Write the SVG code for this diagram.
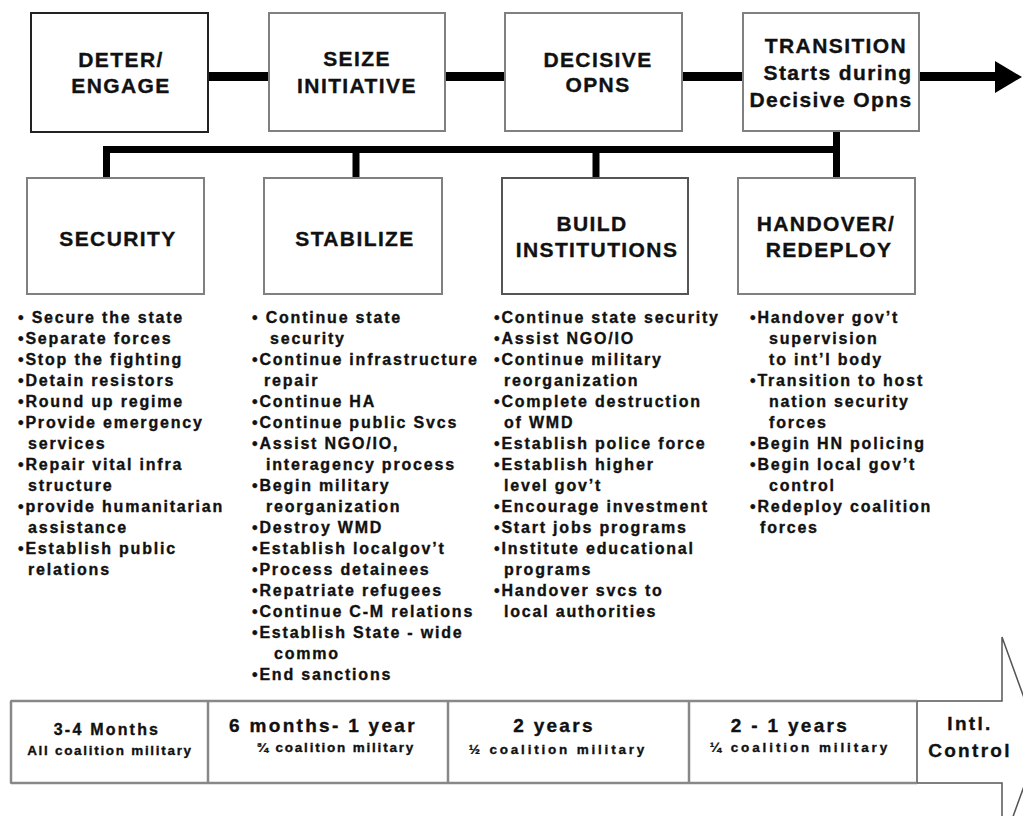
<svg xmlns="http://www.w3.org/2000/svg" width="1023" height="816" viewBox="0 0 1023 816">
<style>
.bg{fill:#fff}
.box{fill:#fff;stroke:#808080;stroke-width:2}
.box1{fill:#fff;stroke:#222;stroke-width:2}
text{font-family:"Liberation Sans",Arial,sans-serif;font-weight:bold;fill:#111;stroke:#111;stroke-width:0.35}
.lbl{font-size:21px;letter-spacing:1.4px;text-anchor:middle}
.li{font-size:16px;letter-spacing:1.8px}
.big{font-size:19px;letter-spacing:2.3px;text-anchor:middle}
.mid{font-size:16px;letter-spacing:2.2px;text-anchor:middle}
.sm{font-size:13.5px;letter-spacing:1.8px;text-anchor:middle}
.thick{fill:none;stroke:#000;stroke-width:9}
.branch{fill:none;stroke:#000;stroke-width:7;stroke-linejoin:miter}
.cell{fill:none;stroke:#888;stroke-width:2.5}
</style>
<rect class="bg" x="0" y="0" width="1023" height="816"/>

<g id="connectors">
<path class="thick" d="M208 76.5H269M445 76.5H505M682 76.5H743M919 76.5H997"/>
<polygon points="995,61 1022,77 995,93" fill="#000"/>
<path class="branch" d="M106.5 178V149.5H836.5"/>
<path class="branch" d="M836.5 132V178M356 149.5V178M596 149.5V178"/>
</g>

<g id="deter">
<rect class="box1" x="31" y="13" width="177" height="119"/>
<text class="lbl" x="121" y="67">DETER/</text>
<text class="lbl" x="121" y="93">ENGAGE</text>
</g>
<g id="seize">
<rect class="box" x="269" y="13" width="176" height="118"/>
<text class="lbl" x="357" y="66">SEIZE</text>
<text class="lbl" x="357" y="93">INITIATIVE</text>
</g>
<g id="decisive">
<rect class="box" x="505" y="13" width="177" height="118"/>
<text class="lbl" x="598" y="67">DECISIVE</text>
<text class="lbl" x="598" y="92">OPNS</text>
</g>
<g id="transition">
<rect class="box" x="743" y="13" width="176" height="118"/>
<text class="lbl" x="836" y="53">TRANSITION</text>
<text class="lbl" x="838" y="80">Starts during</text>
<text class="lbl" x="831" y="107">Decisive Opns</text>
</g>

<g id="security">
<rect class="box" x="27" y="178" width="177" height="116"/>
<text class="lbl" x="118" y="246">SECURITY</text>
</g>
<g id="stabilize">
<rect class="box" x="264" y="178" width="178" height="116"/>
<text class="lbl" x="355" y="246">STABILIZE</text>
</g>
<g id="build">
<rect class="box" x="502" y="178" width="186" height="116" style="stroke:#555"/>
<text class="lbl" x="592" y="231">BUILD</text>
<text class="lbl" x="597" y="257">INSTITUTIONS</text>
</g>
<g id="handover">
<rect class="box" x="738" y="178" width="177" height="116"/>
<text class="lbl" x="826" y="231">HANDOVER/</text>
<text class="lbl" x="829" y="257">REDEPLOY</text>
</g>

<g id="security-list">
<text class="li" x="18" y="323">• Secure the state</text>
<text class="li" x="18" y="344">•Separate forces</text>
<text class="li" x="18" y="365">•Stop the fighting</text>
<text class="li" x="18" y="386">•Detain resistors</text>
<text class="li" x="18" y="407">•Round up regime</text>
<text class="li" x="18" y="428">•Provide emergency</text>
<text class="li" x="28" y="449">services</text>
<text class="li" x="18" y="470">•Repair vital infra</text>
<text class="li" x="28" y="491">structure</text>
<text class="li" x="18" y="512">•provide humanitarian</text>
<text class="li" x="28" y="533">assistance</text>
<text class="li" x="18" y="554">•Establish public</text>
<text class="li" x="28" y="575">relations</text>
</g>

<g id="stabilize-list">
<text class="li" x="252" y="323">• Continue state</text>
<text class="li" x="270" y="344">security</text>
<text class="li" x="252" y="365">•Continue infrastructure</text>
<text class="li" x="264" y="386">repair</text>
<text class="li" x="252" y="407">•Continue HA</text>
<text class="li" x="252" y="428">•Continue public Svcs</text>
<text class="li" x="252" y="449">•Assist NGO/IO,</text>
<text class="li" x="266" y="470">interagency process</text>
<text class="li" x="252" y="491">•Begin military</text>
<text class="li" x="266" y="512">reorganization</text>
<text class="li" x="252" y="533">•Destroy WMD</text>
<text class="li" x="252" y="554">•Establish localgov’t</text>
<text class="li" x="252" y="575">•Process detainees</text>
<text class="li" x="252" y="596">•Repatriate refugees</text>
<text class="li" x="252" y="617">•Continue C-M relations</text>
<text class="li" x="252" y="638">•Establish State - wide</text>
<text class="li" x="274" y="659">commo</text>
<text class="li" x="252" y="680">•End sanctions</text>
</g>

<g id="build-list">
<text class="li" x="494" y="323">•Continue state security</text>
<text class="li" x="494" y="344">•Assist NGO/IO</text>
<text class="li" x="494" y="365">•Continue military</text>
<text class="li" x="504" y="386">reorganization</text>
<text class="li" x="494" y="407">•Complete destruction</text>
<text class="li" x="504" y="428">of WMD</text>
<text class="li" x="494" y="449">•Establish police force</text>
<text class="li" x="494" y="470">•Establish higher</text>
<text class="li" x="504" y="491">level gov’t</text>
<text class="li" x="494" y="512">•Encourage investment</text>
<text class="li" x="494" y="533">•Start jobs programs</text>
<text class="li" x="494" y="554">•Institute educational</text>
<text class="li" x="504" y="575">programs</text>
<text class="li" x="494" y="596">•Handover svcs to</text>
<text class="li" x="504" y="617">local authorities</text>
</g>

<g id="handover-list">
<text class="li" x="750" y="323">•Handover gov’t</text>
<text class="li" x="769" y="344">supervision</text>
<text class="li" x="769" y="365">to int’l body</text>
<text class="li" x="750" y="386">•Transition to host</text>
<text class="li" x="769" y="407">nation security</text>
<text class="li" x="769" y="428">forces</text>
<text class="li" x="750" y="449">•Begin HN policing</text>
<text class="li" x="750" y="470">•Begin local gov’t</text>
<text class="li" x="769" y="491">control</text>
<text class="li" x="750" y="512">•Redeploy coalition</text>
<text class="li" x="760" y="533">forces</text>
</g>

<g id="timeline">
<polygon points="11,701 1002,701 1002,637 1040,742 1002,847 1002,783 11,783" fill="#fff" stroke="#555" stroke-width="1.5"/>
<path class="cell" d="M11 701V783M208 701V783M448 701V783M689 701V783"/>
<path d="M917 701V783" stroke="#555" stroke-width="1.5"/>
<path class="cell" d="M11 701H917M11 783H917"/>
<text class="mid" x="107" y="735">3-4 Months</text>
<text class="sm" x="110" y="755" style="letter-spacing:1.7px">All coalition military</text>
<text class="big" x="323" y="732">6 months- 1 year</text>
<text class="sm" x="336" y="752">¾ coalition military</text>
<text class="big" x="554" y="732">2 years</text>
<text class="sm" x="558" y="754" style="letter-spacing:2.8px">½ coalition military</text>
<text class="big" x="790" y="732">2 - 1 years</text>
<text class="sm" x="800" y="752" style="letter-spacing:2.9px">¼ coalition military</text>
<text class="big" x="970" y="730">Intl.</text>
<text class="big" x="970" y="757">Control</text>
</g>
</svg>
